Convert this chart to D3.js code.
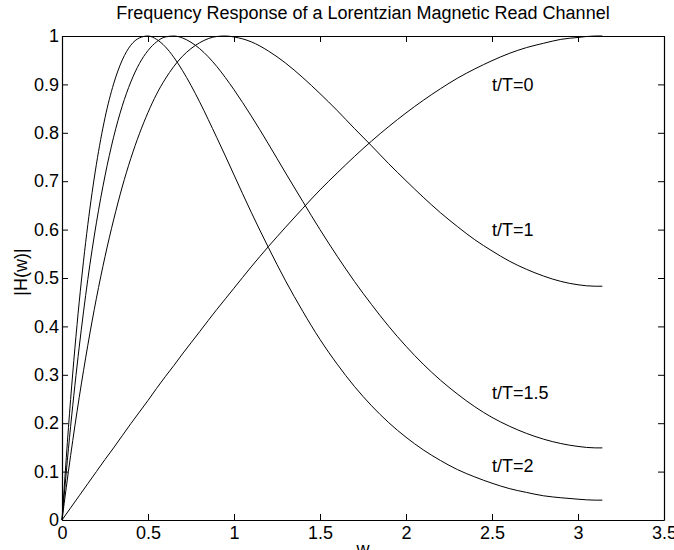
<!DOCTYPE html>
<html>
<head>
<meta charset="utf-8">
<script src="https://cdn.jsdelivr.net/npm/d3@7"></script>
<style>
  body { margin: 0; background: #fff; }
  text { font-family: "Liberation Sans", Arial, Helvetica, sans-serif; }
</style>
</head>
<body>
<script>
// frequency points (rad)
var w = [0, 0.05, 0.1, 0.15, 0.2, 0.25, 0.3, 0.35, 0.4, 0.45, 0.5, 0.55, 0.6, 0.65, 0.7, 0.75, 0.8,
         0.9, 0.95, 1.0, 1.1, 1.2, 1.3, 1.4, 1.5, 1.6, 1.7, 1.8, 1.9, 2.0, 2.1, 2.2, 2.3, 2.4,
         2.5, 2.6, 2.7, 2.8, 2.9, 3.0, 3.1, 3.1416];

// |H(w)| for each t/T
var h0 = [0, 0.025, 0.050, 0.075, 0.100, 0.125, 0.149, 0.174, 0.199, 0.223, 0.247, 0.272, 0.296, 0.319, 0.343, 0.366, 0.389,
          0.435, 0.457, 0.479, 0.523, 0.565, 0.605, 0.644, 0.682, 0.717, 0.751, 0.783, 0.813, 0.841, 0.867, 0.891, 0.913, 0.932,
          0.949, 0.964, 0.976, 0.985, 0.993, 0.997, 1.000, 1.000];
var h1 = [0, 0.133, 0.253, 0.361, 0.458, 0.544, 0.620, 0.688, 0.747, 0.798, 0.842, 0.880, 0.911, 0.937, 0.958, 0.974, 0.986,
          0.999, 1.000, 0.998, 0.988, 0.969, 0.944, 0.914, 0.881, 0.846, 0.809, 0.773, 0.736, 0.701, 0.667, 0.635, 0.606, 0.579,
          0.556, 0.535, 0.518, 0.504, 0.493, 0.486, 0.483, 0.483];
var h15 = [0, 0.193, 0.357, 0.497, 0.614, 0.711, 0.791, 0.855, 0.905, 0.943, 0.970, 0.988, 0.998, 1.000, 0.996, 0.987, 0.974,
           0.937, 0.914, 0.889, 0.835, 0.777, 0.717, 0.658, 0.600, 0.545, 0.493, 0.445, 0.400, 0.359, 0.322, 0.289, 0.260, 0.234,
           0.212, 0.194, 0.179, 0.167, 0.158, 0.152, 0.149, 0.149];
var h2 = [0, 0.249, 0.450, 0.610, 0.735, 0.831, 0.901, 0.950, 0.981, 0.996, 1.000, 0.993, 0.978, 0.956, 0.929, 0.898, 0.864,
          0.790, 0.752, 0.713, 0.636, 0.563, 0.494, 0.431, 0.373, 0.322, 0.276, 0.236, 0.201, 0.171, 0.145, 0.123, 0.104, 0.089,
          0.076, 0.065, 0.057, 0.050, 0.046, 0.043, 0.041, 0.041];

var labels = ["t/T=0", "t/T=1", "t/T=1.5", "t/T=2"];
var labelX = [2.5, 2.5, 2.5, 2.5];
var labelY = [0.9, 0.6, 0.263, 0.113];

var xTicks = [0, 0.5, 1, 1.5, 2, 2.5, 3, 3.5];
var yTicks = [0, 0.1, 0.2, 0.3, 0.4, 0.5, 0.6, 0.7, 0.8, 0.9, 1];

var width = 674;
var height = 550;
var mLeft = 62, mRight = 664, mTop = 36, mBottom = 520;

var svg = d3.select("body")
            .append("svg")
            .attr("width", width)
            .attr("height", height);

var x = d3.scaleLinear().domain([0, 3.5]).range([mLeft, mRight]);
var y = d3.scaleLinear().domain([0, 1]).range([mBottom, mTop]);

var fmt = function(d) { return String(d); };

// bottom and left axes with labels, ticks pointing inward
svg.append("g")
   .attr("transform", "translate(0," + mBottom + ")")
   .call(d3.axisBottom(x).tickValues(xTicks).tickFormat(fmt).tickSizeInner(-6).tickSizeOuter(0).tickPadding(6));

svg.append("g")
   .attr("transform", "translate(" + mLeft + ",0)")
   .call(d3.axisLeft(y).tickValues(yTicks).tickFormat(fmt).tickSizeInner(-6).tickSizeOuter(0).tickPadding(3));

// top and right axes, ticks only
svg.append("g")
   .attr("transform", "translate(0," + mTop + ")")
   .call(d3.axisTop(x).tickValues(xTicks).tickFormat("").tickSizeInner(-6).tickSizeOuter(0));

svg.append("g")
   .attr("transform", "translate(" + mRight + ",0)")
   .call(d3.axisRight(y).tickValues(yTicks).tickFormat("").tickSizeInner(-6).tickSizeOuter(0));

svg.selectAll(".domain").attr("stroke", "#000").attr("stroke-width", 1.2);
svg.selectAll(".tick line").attr("stroke", "#000").attr("stroke-width", 1);
svg.selectAll(".tick text")
   .attr("fill", "#000")
   .style("font-size", "18px")
   .style("font-family", "'Liberation Sans', Arial, sans-serif");

var line = d3.line()
             .x(function(d) { return x(d[0]); })
             .y(function(d) { return y(d[1]); })
             .curve(d3.curveMonotoneX);

var series = [h0, h1, h15, h2];
series.forEach(function(h) {
  svg.append("path")
     .datum(w.map(function(v, i) { return [v, h[i]]; }))
     .attr("d", line)
     .attr("fill", "none")
     .attr("stroke", "#000")
     .attr("stroke-width", 1);
});

labels.forEach(function(t, i) {
  svg.append("text")
     .text(t)
     .attr("x", x(labelX[i]))
     .attr("y", y(labelY[i]))
     .attr("dy", "0.35em")
     .style("font-size", "18px");
});

svg.append("text")
   .text("Frequency Response of a Lorentzian Magnetic Read Channel")
   .attr("x", (mLeft + mRight) / 2)
   .attr("y", 19)
   .attr("text-anchor", "middle")
   .style("font-size", "18px");

svg.append("text")
   .text("w")
   .attr("x", (mLeft + mRight) / 2)
   .attr("y", 555)
   .attr("text-anchor", "middle")
   .style("font-size", "18px");

svg.append("text")
   .text("|H(w)|")
   .attr("transform", "translate(27,272) rotate(-90)")
   .attr("text-anchor", "middle")
   .style("font-size", "18px");
</script>
</body>
</html>
